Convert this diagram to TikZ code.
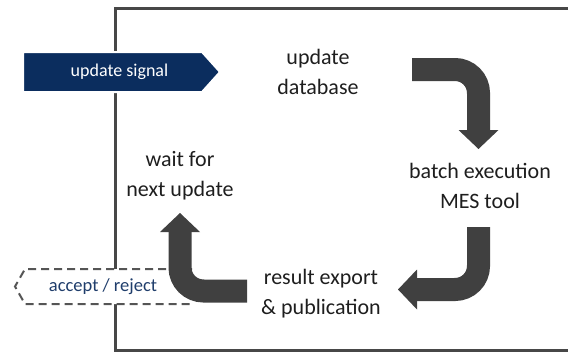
\documentclass[tikz,border=0pt]{standalone}
\usepackage{fontspec}
\setmainfont{Carlito}
\usetikzlibrary{arrows.meta}
\definecolor{navy}{HTML}{0B2D5E}
\definecolor{arrowgray}{HTML}{404040}
\definecolor{framegray}{HTML}{474747}
\definecolor{txt}{HTML}{1E1E1E}
\definecolor{dashgray}{HTML}{555555}
\definecolor{acctext}{HTML}{1F3D6B}
\begin{document}
\begin{tikzpicture}[x=1pt,y=-1pt,
  steptext/.style={font=\fontsize{22}{30}\selectfont, text=txt, align=center, inner sep=0pt},
  bigarrow/.style={draw=arrowgray, line width=23pt, rounded corners=23.5pt,
    -{Triangle[width=40pt,length=19pt,line width=0pt]}},
  sigshape/.style={fill=navy, draw=white, line width=2pt},
  sigtext/.style={text=white, inner sep=0pt, font=\fontsize{18}{20}\selectfont},
  accfill/.style={fill=white},
  accline/.style={draw=dashgray, line width=2pt, dash pattern=on 8pt off 5pt},
  acctxt/.style={text=acctext, inner sep=0pt, font=\fontsize{18.5}{20}\selectfont},
]
\useasboundingbox (0,0) rectangle (568,351);
\draw[framegray, line width=3pt] (115,8) rectangle (580,350);

% update signal
\path[sigshape] (23,52) -- (202,52) -- (220,72) -- (202,92) -- (23,92) -- cycle;
\node (sig) [sigtext] at (119.5,72) {update signal};

% accept / reject
\path[accfill] (192,269) -- (25,269) -- (15,286.5) -- (25,304) -- (192,304) -- cycle;
\draw[accline] (192,269) -- (25,269) -- (15,286.5) -- (25,304) -- (192,304);
\node (acc) [acctxt] at (103,287) {accept / reject};

\coordinate (a1s) at (412,69.5);
\coordinate (a1c) at (478.5,69.5);
\coordinate (a1e) at (478.5,149);
\coordinate (a2s) at (478.5,227);
\coordinate (a2c) at (478.5,289.5);
\coordinate (a2e) at (398,289.5);
\coordinate (a3s) at (247,291);
\coordinate (a3c) at (180,291);
\coordinate (a3e) at (180,213);
\draw[bigarrow] (a1s) -- (a1c) -- (a1e);
\draw[bigarrow] (a2s) -- (a2c) -- (a2e);
\draw[bigarrow] (a3s) -- (a3c) -- (a3e);

\node (db) [steptext] at (318,72) {update\\database};
\node (mes) [steptext] at (480,186) {batch execution\\MES tool};
\node (pub) [steptext] at (321,294) {result export\\\& publication};
\node (wait) [steptext] at (180,176) {wait for\\next update};
\end{tikzpicture}
\end{document}
